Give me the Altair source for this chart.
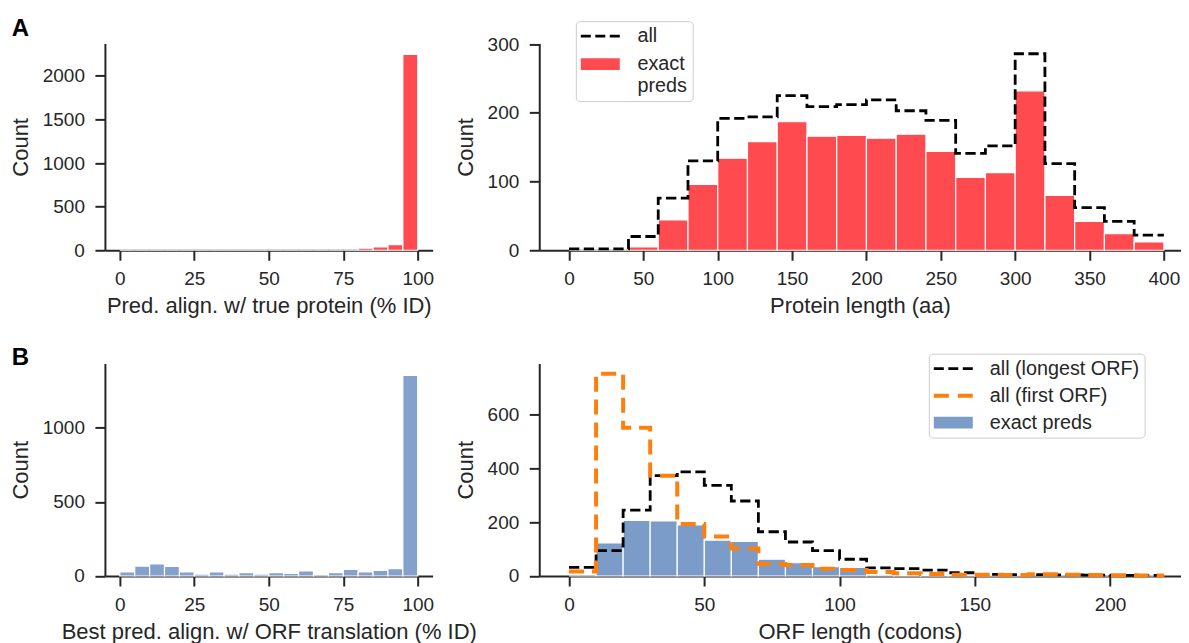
import altair as alt
import pandas as pd

# ---------------- data ----------------
# A, left: predicted alignment vs true protein (% ID), 5-point bins 0..100
pid_bin_starts = list(range(0, 100, 5))
pid_exact = [0, 0, 0, 0, 0, 0, 0, 0, 0, 0, 0, 0, 0, 0, 0, 0, 23, 38, 65, 2245]

# A, right: protein length (aa), 20-aa bins 0..400
plen_bin_starts = list(range(0, 400, 20))
plen_all = [2, 2, 20, 76, 130, 192, 194, 225, 209, 212, 219, 203, 189, 141, 152, 286, 126, 62, 42, 22]
plen_exact = [0, 0, 5, 44, 96, 134, 158, 187, 166, 167, 163, 169, 144, 106, 113, 232, 80, 42, 24, 12]

# B, left: best pred. alignment vs ORF translation (% ID), 5-point bins 0..100
orfpid_bin_starts = list(range(0, 100, 5))
orfpid_exact = [27, 67, 81, 65, 27, 13, 27, 13, 22, 13, 22, 18, 34, 11, 22, 45, 27, 38, 49, 1353]

# B, right: ORF length (codons), 10-codon bins 0..220
orf_bin_starts = list(range(0, 220, 10))
orf_longest = [32, 94, 244, 372, 386, 336, 278, 164, 126, 94, 62, 30, 27, 22, 12, 6, 5, 5, 4, 3, 2, 2]
orf_first = [17, 750, 550, 372, 193, 146, 102, 44, 41, 27, 22, 15, 10, 7, 5, 5, 4, 6, 5, 4, 3, 2]
orf_exact = [0, 123, 206, 204, 189, 133, 128, 62, 49, 35, 32, 5, 3, 2, 1, 1, 1, 0, 0, 0, 0, 0]

# legend entries
tr_names = ["all", "exact preds"]
br_names = ["all (longest ORF)", "all (first ORF)", "exact preds"]

# ---------------- styling ----------------
FONT = "Liberation Sans"
AX = "#262626"
RED = "#ff4a4f"
BLUE_L = "#84a0cc"
BLUE = "#7b9bc8"
ORANGE = "#ff7f0e"
BLACK_DASH = [10.3, 4.5]
ORANGE_DASH = [15, 8]

# legend glyphs as filled paths; unit = sqrt(symbolSize)/2 = 10 px, glyph 39 px wide
SYM_SIZE = 400
SYM_BLACK_DASH = ("M-1,-0.14H0V0.14H-1Z M0.45,-0.14H1.45V0.14H0.45Z "
                  "M1.9,-0.14H2.9V0.14H1.9Z")
SYM_ORANGE_DASH = "M-1,-0.2H0.5V0.2H-1Z M1.4,-0.2H2.9V0.2H1.4Z"
SYM_RECT = "M-1,-0.585H2.9V0.585H-1Z"


def bar_frame(starts, width, counts, series):
    return pd.DataFrame({
        "x": starts,
        "x2": [s + width for s in starts],
        "count": counts,
        "series": series,
    })


def step_frame(starts, width, counts, series):
    xs = list(starts) + [starts[-1] + width]
    ys = list(counts) + [counts[-1]]
    return pd.DataFrame({"x": xs, "count": ys, "series": series, "order": list(range(len(xs)))})


def xaxis(title, values):
    return alt.Axis(title=title, values=values, format="d", labelFlush=False, labelOverlap=False)


def yaxis(values):
    return alt.Axis(title="Count", values=values, format="d", labelOverlap=False)


def panel_title(letter, offset, dy):
    return alt.TitleParams(text=letter, anchor="start", frame="group", dx=-93.3, dy=dy,
                           offset=offset, baseline="alphabetic", font=FONT,
                           fontSize=24, fontWeight="bold", color="black")


def legend_layer(names, fills, shapes, xs, ys, legend):
    df = pd.DataFrame({"series": names, "x": [0] * len(names), "count": [0] * len(names)})
    return alt.Chart(df).transform_filter("false").mark_point(
        filled=True, strokeWidth=0, opacity=1
    ).encode(
        x=alt.X("x:Q", scale=xs),
        y=alt.Y("count:Q", scale=ys),
        fill=alt.Fill("series:N", scale=alt.Scale(domain=names, range=fills), legend=legend),
        shape=alt.Shape("series:N", scale=alt.Scale(domain=names, range=shapes), legend=legend),
    )


def make_legend(x, y, offset, row_pad, expr=None):
    kw = dict(
        title=None, orient="none", legendX=x, legendY=y,
        labelFont=FONT, labelFontSize=19.8, labelColor=AX,
        symbolSize=SYM_SIZE, symbolStrokeWidth=0, symbolOpacity=1,
        labelOffset=offset, padding=5, rowPadding=row_pad,
        strokeColor="#cccccc", fillColor="white", cornerRadius=4,
    )
    if expr:
        kw["labelExpr"] = expr
    return alt.Legend(**kw)


def hist_bars(starts, width, counts, color, xs, ys, xax, yax):
    return alt.Chart(bar_frame(starts, width, counts, "exact preds")).mark_bar(
        stroke="white", strokeWidth=1.2, color=color, opacity=1
    ).encode(
        x=alt.X("x:Q", scale=xs, axis=xax),
        x2="x2:Q",
        y=alt.Y("count:Q", scale=ys, axis=yax),
        y2=alt.datum(0),
    )


def step_line(starts, width, counts, name, color, dash, sw, xs, ys):
    return alt.Chart(step_frame(starts, width, counts, name)).mark_line(
        interpolate="step-after", strokeDash=dash, strokeWidth=sw, color=color
    ).encode(
        x=alt.X("x:Q", scale=xs),
        y=alt.Y("count:Q", scale=ys),
        order="order:Q",
    )


# ---------------- A left ----------------
tl_x = alt.Scale(domain=[-5, 105], nice=False, zero=False)
tl_y = alt.Scale(domain=[0, 2372], nice=False)
tl = hist_bars(pid_bin_starts, 5, pid_exact, RED, tl_x, tl_y,
               xaxis("Pred. align. w/ true protein (% ID)", [0, 25, 50, 75, 100]),
               yaxis([0, 500, 1000, 1500, 2000])
               ).properties(width=328, height=207, title=panel_title("A", 9.4, 25.6))

# ---------------- A right ----------------
tr_x = alt.Scale(domain=[-20, 411.3], nice=False, zero=False)
tr_y = alt.Scale(domain=[0, 301], nice=False)
tr_legend = make_legend(36.6, -22.3, 36.7, 8,
                        "datum.label == 'exact preds' ? ['exact', 'preds'] : datum.label")
tr_bars = hist_bars(plen_bin_starts, 20, plen_exact, RED, tr_x, tr_y,
                    xaxis("Protein length (aa)", list(range(0, 401, 50))),
                    yaxis([0, 100, 200, 300]))
tr_line = step_line(plen_bin_starts, 20, plen_all, "all", "#000000", BLACK_DASH, 2.8, tr_x, tr_y)
tr_leg = legend_layer(tr_names, ["#000000", RED], [SYM_BLACK_DASH, SYM_RECT], tr_x, tr_y, tr_legend)
tr = alt.layer(tr_bars, tr_line, tr_leg).properties(width=642, height=207)

# ---------------- B left ----------------
bl_x = alt.Scale(domain=[-5, 105], nice=False, zero=False)
bl_y = alt.Scale(domain=[0, 1434], nice=False)
bl = hist_bars(orfpid_bin_starts, 5, orfpid_exact, BLUE_L, bl_x, bl_y,
               xaxis("Best pred. align. w/ ORF translation (% ID)", [0, 25, 50, 75, 100]),
               yaxis([0, 500, 1000])
               ).properties(width=328, height=212.7, title=panel_title("B", 0, 25.5))

# ---------------- B right ----------------
br_x = alt.Scale(domain=[-11, 226.1], nice=False, zero=False)
br_y = alt.Scale(domain=[0, 788], nice=False)
br_legend = make_legend(389.9, -9.8, 36, 7)
br_bars = hist_bars(orf_bin_starts, 10, orf_exact, BLUE, br_x, br_y,
                    xaxis("ORF length (codons)", [0, 50, 100, 150, 200]),
                    yaxis([0, 200, 400, 600]))
br_long = step_line(orf_bin_starts, 10, orf_longest, "all (longest ORF)", "#000000",
                    BLACK_DASH, 2.8, br_x, br_y)
br_first = step_line(orf_bin_starts, 10, orf_first, "all (first ORF)", ORANGE,
                     ORANGE_DASH, 4, br_x, br_y)
br_leg = legend_layer(br_names, ["#000000", ORANGE, BLUE],
                      [SYM_BLACK_DASH, SYM_ORANGE_DASH, SYM_RECT], br_x, br_y, br_legend)
br = alt.layer(br_bars, br_long, br_first, br_leg).properties(width=642, height=212.7)

chart = alt.concat(
    tl, tr, bl, br, columns=2, bounds="flush",
    spacing={"row": 113.3, "column": 106.7},
).resolve_scale(
    x="independent", y="independent", fill="independent", shape="independent"
).properties(
    padding={"left": 1, "top": 8.2, "right": 0, "bottom": 0}
).configure_view(
    stroke=None
).configure_axis(
    grid=False, domainColor=AX, domainWidth=2, tickColor=AX, tickWidth=2, tickSize=10,
    labelFont=FONT, labelFontSize=19, labelColor=AX,
    titleFont=FONT, titleFontSize=22, titleFontWeight="normal", titleColor=AX,
    zindex=1,
).configure_axisX(
    labelPadding=9.5, titlePadding=6.6,
).configure_axisY(
    labelPadding=10.5, titlePadding=10,
)

chart.save("out.html", embed_options={"renderer": "svg", "actions": False})
